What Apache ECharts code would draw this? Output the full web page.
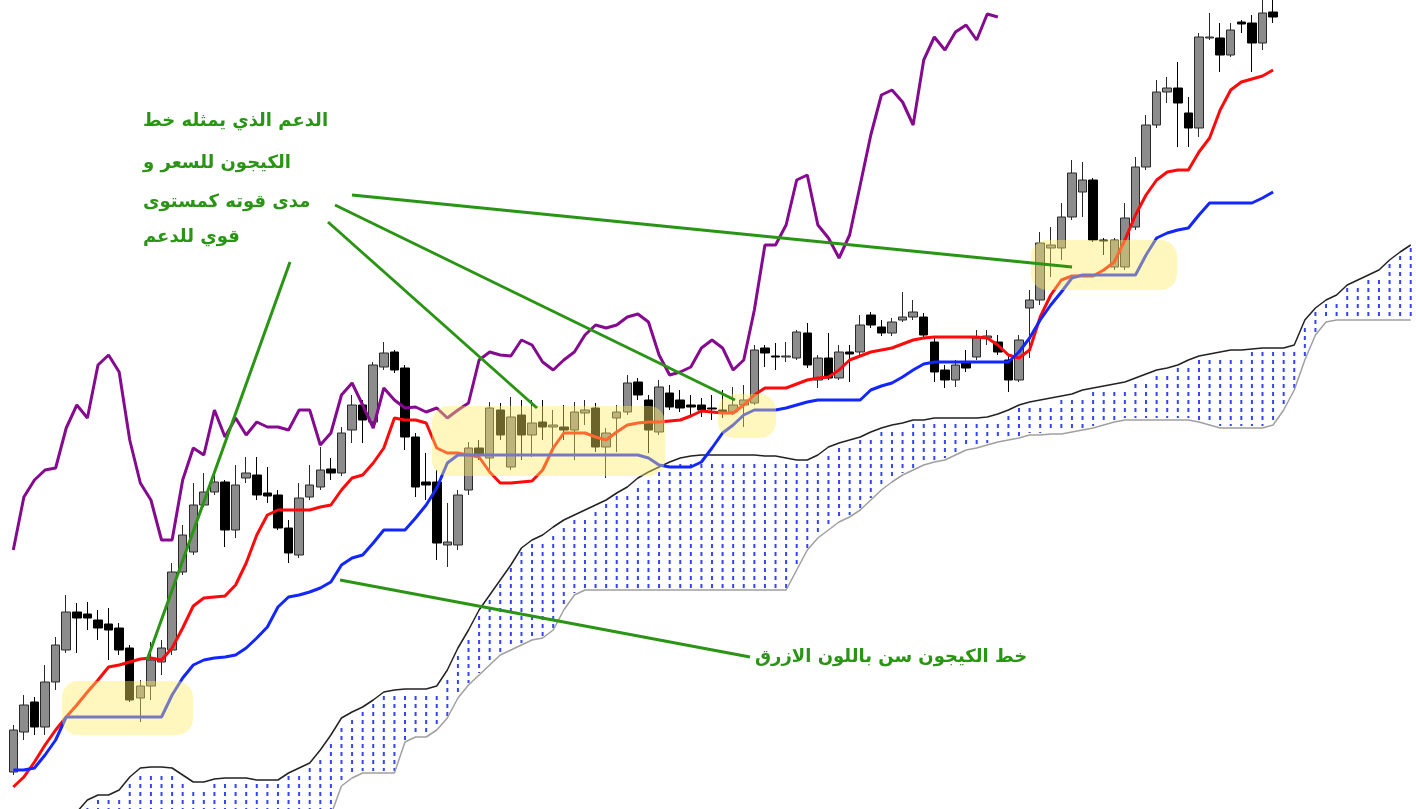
<!DOCTYPE html>
<html><head><meta charset="utf-8">
<script src="https://cdn.jsdelivr.net/npm/echarts@6/dist/echarts.min.js"></script>
<style>html,body{margin:0;padding:0;background:#fff;overflow:hidden}#c{width:1416px;height:809px}</style>
</head><body><div id="c"></div><script>
// ---- candles (price units) ----
const opens  = [28,68,98,73,118,150,188,186,180,176,172,152,102,114,138,150,228,248,295,308,318,270,322,325,307,305,272,245,303,313,331,327,370,395,378,433,448,432,363,318,318,255,255,310,352,342,390,333,385,365,378,373,373,370,387,392,353,382,388,418,400,368,407,400,395,395,392,390,388,395,397,452,444,443,442,467,420,442,422,448,448,485,473,467,480,483,483,458,430,420,437,443,462,458,440,420,492,500,552,552,583,608,620,560,533,533,573,633,675,708,712,687,672,762,762,745,778,777,757,788];
const closes = [70,95,73,118,155,188,182,182,172,170,150,100,114,140,152,228,265,295,308,318,270,315,327,305,304,272,247,302,315,330,327,367,395,380,435,447,430,363,313,315,257,258,305,352,345,392,365,383,365,377,373,375,370,388,390,353,367,388,417,405,370,413,393,392,393,390,391,387,395,400,450,447,443,444,468,435,442,422,448,446,475,475,467,478,483,488,465,428,420,435,432,462,464,448,420,460,500,557,555,583,627,620,560,559,560,582,633,675,708,712,697,672,763,763,745,770,776,757,787,783];
const lows   = [25,60,65,65,110,147,147,170,160,140,145,98,78,100,125,145,225,245,293,305,253,262,317,300,297,270,237,242,300,310,320,324,357,357,375,430,427,350,303,300,240,233,250,305,340,330,360,330,340,343,360,350,360,340,375,348,322,348,385,400,347,365,390,388,385,383,380,382,385,373,395,433,430,438,440,432,412,420,420,418,445,472,464,464,478,480,462,418,412,413,428,440,455,445,408,418,442,495,523,540,580,583,558,545,530,530,570,630,672,697,653,653,663,760,728,743,767,728,750,777];
const highs  = [75,105,103,135,163,205,197,198,190,192,177,155,120,158,160,237,275,317,327,330,320,335,343,343,333,310,280,317,335,353,342,373,405,400,438,458,450,435,367,347,330,297,310,358,360,398,397,403,400,400,400,390,395,398,400,397,372,395,425,422,405,420,415,410,405,402,405,410,413,415,455,455,457,458,470,477,445,467,455,455,485,488,480,482,508,500,487,462,435,440,450,470,470,465,445,465,510,568,573,597,640,638,622,562,562,597,643,685,720,723,738,703,767,787,777,777,780,785,805,805];
// ---- Ichimoku lines ----
const tenkan = [13,23,38,55,70,83,95,108,120,133,135,138,141,142,140,152,172,194,202,203,204,215,237,265,285,290,290,290,290,293,295,310,322,325,337,352,382,380,380,377,352,347,347,345,343,328,317,317,318,319,330,352,367,367,367,363,360,368,375,377,378,378,379,380,384,389,388,387,387,395,405,412,412,412,416,420,422,423,430,440,444,448,450,452,456,460,462,463,463,463,463,463,462,455,445,442,450,483,505,520,524,524,524,530,538,560,585,605,620,628,630,630,648,662,690,710,718,721,724,730];
const kijun  = [30,30,32,45,60,83,83,83,83,83,83,83,83,83,83,105,122,135,140,142,143,145,152,162,173,193,203,205,208,212,218,235,242,245,257,270,270,270,282,295,312,337,345,345,345,345,345,345,345,345,345,345,345,345,345,345,345,345,345,345,342,335,333,333,333,338,352,367,375,385,390,390,390,392,395,398,400,400,400,400,400,410,414,417,423,430,436,438,438,438,438,438,438,438,438,448,462,480,495,508,522,525,525,525,525,525,525,545,562,567,570,572,585,597,597,597,597,597,602,608];
const chikou = [250,303,320,330,332,372,395,382,435,445,428,360,317,300,260,260,320,352,345,390,363,382,365,378,373,373,370,390,390,355,367,405,417,395,372,412,400,392,393,388,392,382,390,397,440,448,445,444,460,455,438,430,440,448,465,475,472,475,483,486,478,445,425,428,433,452,460,452,430,440,490,555,555,575,620,625,575,562,542,565,615,665,705,710,698,675,740,763,750,768,775,760,786,783];
const senkouTop = [null,null,null,null,null,-20,-12,0,5,5,10,23,32,33,33,32,25,18,18,21,22,22,22,20,20,20,27,32,37,50,65,82,88,93,100,108,110,111,111,111,114,130,152,170,190,205,220,235,252,260,265,273,280,285,290,295,300,307,313,322,328,333,338,342,344,345,345,345,345,345,345,344,344,342,340,340,345,353,357,360,363,368,372,375,377,380,380,382,382,382,382,382,383,386,390,395,398,400,402,404,406,410,412,414,416,418,422,426,430,432,435,440,444,446,448,450,450,451,452,452,452,455,480,492,500,505,515,520,525,530,540,548,555];
const senkouBottom = [null,null,null,null,null,-30,-30,-30,-30,-30,-30,-30,-30,-30,-30,-30,-30,-30,-30,-30,-30,-30,-30,-30,-30,-30,-30,-30,-30,-30,-15,14,22,27,27,27,27,58,63,63,70,82,102,115,125,135,145,150,155,160,162,170,190,205,210,210,210,210,210,210,210,210,210,210,210,210,210,210,210,210,210,210,210,210,230,250,262,270,278,283,290,300,310,318,325,330,335,338,340,345,350,352,355,358,360,362,365,365,366,366,368,370,372,375,378,380,380,380,380,380,380,380,378,375,372,372,372,372,372,375,390,410,440,465,478,480,480,480,480,480,480,480,480];
const categories = senkouTop.map((_, i) => String(i + 1));
const noteLines = ['الدعم الذي يمثله خط', 'الكيجون للسعر و', 'مدى قوته كمستوى', 'قوي للدعم'];
const noteKijun = 'خط الكيجون سن باللون الازرق';

const candleData = opens.map((o, i) => [o, closes[i], lows[i], highs[i]]);
const cloudData = [];
senkouTop.forEach((t, i) => { if (t !== null) cloudData.push([i, t, senkouBottom[i]]); });

const chart = echarts.init(document.getElementById('c'), null, {renderer: 'canvas'});
const GREEN = '#2a9414';
const YEL = 'rgba(255,236,100,0.42)';
const txtFont = 'bold 18px "DejaVu Sans"';
const noteY = [121, 163, 202, 237];

chart.setOption({
  animation: false,
  backgroundColor: '#ffffff',
  grid: {left: 8, right: 0, top: 0, bottom: 0},
  xAxis: {type: 'category', data: categories, boundaryGap: true, show: false},
  yAxis: {type: 'value', min: -9, max: 800, show: false, splitLine: {show: false}},
  series: [
    {
      type: 'custom', z: 1, data: cloudData, encode: {x: 0, y: [1, 2]},
      renderItem: function (params, api) {
        const a = api.coord([api.value(0), api.value(1)]);
        const b = api.coord([api.value(0), api.value(2)]);
        const y1 = Math.ceil((a[1] + 3) / 8) * 8;
        return {type: 'line', shape: {x1: a[0], y1: y1, x2: b[0], y2: b[1] - 2},
          style: {stroke: '#3446f5', lineWidth: 2, lineDash: [4, 4]}};
      }
    },
    {type: 'line', data: senkouTop, symbol: 'none', z: 2, lineStyle: {color: '#222', width: 1.5}},
    {type: 'line', data: senkouBottom, symbol: 'none', z: 2, lineStyle: {color: '#a0a0a0', width: 1.5}},
    {
      type: 'candlestick', z: 3, data: candleData, barWidth: 9,
      itemStyle: {color: '#8c8c8c', color0: '#000000', borderColor: '#2a2a2a', borderColor0: '#000000', borderWidth: 1}
    },
    {type: 'line', data: chikou, symbol: 'none', z: 4, lineStyle: {color: '#850a8f', width: 3}},
    {type: 'line', data: tenkan, symbol: 'none', z: 4, lineStyle: {color: '#ff0a0a', width: 3}},
    {type: 'line', data: kijun, symbol: 'none', z: 5, lineStyle: {color: '#1226ff', width: 3}}
  ],
  graphic: [
    {type: 'rect', z: 100, shape: {x: 62, y: 681, width: 131, height: 54, r: 16}, style: {fill: YEL}},
    {type: 'rect', z: 100, shape: {x: 432, y: 406, width: 233, height: 70, r: 16}, style: {fill: YEL}},
    {type: 'rect', z: 100, shape: {x: 718, y: 394, width: 58, height: 44, r: 16}, style: {fill: YEL}},
    {type: 'rect', z: 100, shape: {x: 1031, y: 240, width: 146, height: 50, r: 16}, style: {fill: YEL}},
    {type: 'line', z: 110, shape: {x1: 352, y1: 195, x2: 1072, y2: 267}, style: {stroke: GREEN, lineWidth: 3}},
    {type: 'line', z: 110, shape: {x1: 335, y1: 205, x2: 735, y2: 400}, style: {stroke: GREEN, lineWidth: 3}},
    {type: 'line', z: 110, shape: {x1: 328, y1: 222, x2: 537, y2: 408}, style: {stroke: GREEN, lineWidth: 3}},
    {type: 'line', z: 110, shape: {x1: 290, y1: 262, x2: 147, y2: 660}, style: {stroke: GREEN, lineWidth: 3}},
    {type: 'line', z: 110, shape: {x1: 340, y1: 580, x2: 750, y2: 657}, style: {stroke: GREEN, lineWidth: 3}}
  ].concat(noteLines.map((t, k) => ({type: 'text', z: 120, x: 143, y: noteY[k],
      style: {text: t, font: txtFont, fill: GREEN, align: 'left', verticalAlign: 'middle'}})))
   .concat([{type: 'text', z: 120, x: 755, y: 657,
      style: {text: noteKijun, font: txtFont, fill: GREEN, align: 'left', verticalAlign: 'middle'}}])
});
</script></body></html>
